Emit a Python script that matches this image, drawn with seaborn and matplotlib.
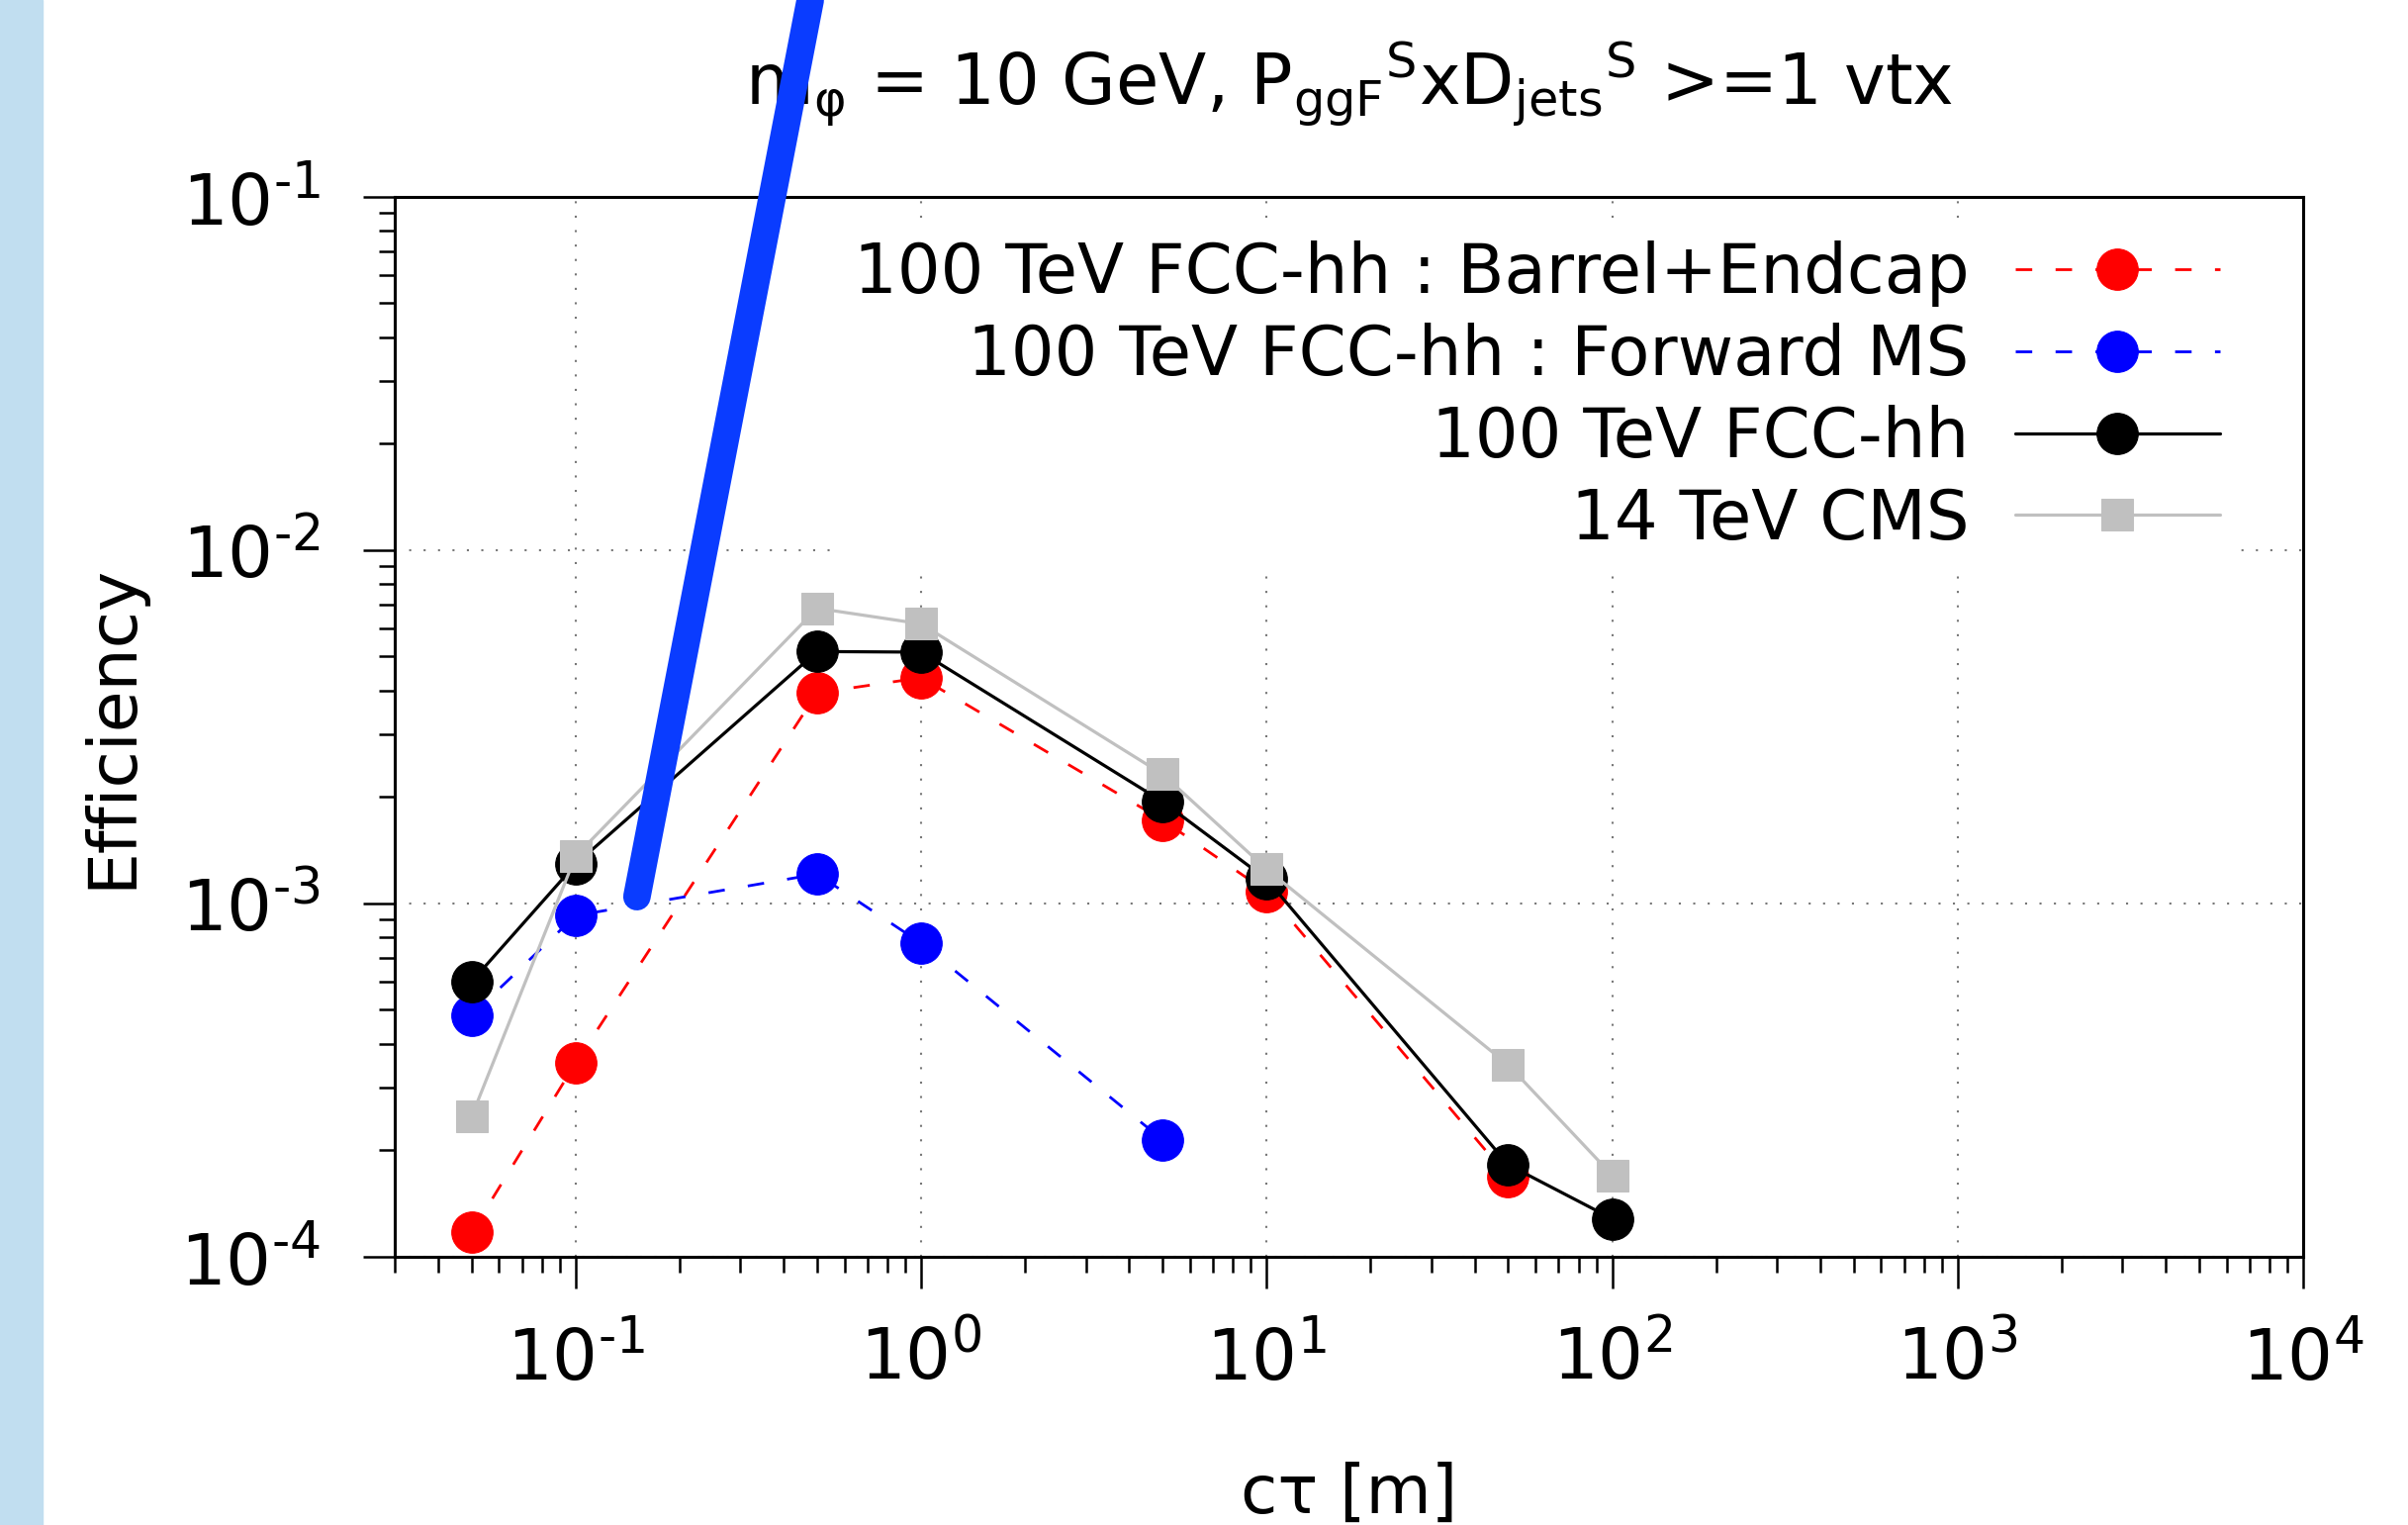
import numpy as np
import pandas as pd
import matplotlib
matplotlib.use("Agg")
import matplotlib.pyplot as plt
from matplotlib.lines import Line2D
from matplotlib.patches import Rectangle
from matplotlib.ticker import LogLocator, NullFormatter
import seaborn as sns

# ---- data ----
ctau = [0.05, 0.1, 0.5, 1, 5, 10, 50, 100]
eff_barrel = [1.17e-4, 3.53e-4, 3.94e-3, 4.35e-3, 1.72e-3, 1.08e-3, 1.68e-4]
ctau_fwd = [0.05, 0.1, 0.5, 1, 5]
eff_forward = [4.82e-4, 9.23e-4, 1.21e-3, 7.71e-4, 2.14e-4]
eff_fcc = [6.0e-4, 1.29e-3, 5.16e-3, 5.14e-3, 1.94e-3, 1.17e-3, 1.82e-4, 1.28e-4]
eff_cms = [2.49e-4, 1.36e-3, 6.84e-3, 6.18e-3, 2.32e-3, 1.25e-3, 3.49e-4, 1.70e-4]

labels = ["100 TeV FCC-hh : Barrel+Endcap", "100 TeV FCC-hh : Forward MS",
          "100 TeV FCC-hh", "14 TeV CMS"]

xticks = [1e-1, 1e0, 1e1, 1e2, 1e3, 1e4]
xticklabels = [r"$10^{\text{-1}}$", r"$10^{0}$", r"$10^{1}$", r"$10^{2}$",
               r"$10^{3}$", r"$10^{4}$"]
yticks = [1e-4, 1e-3, 1e-2, 1e-1]
yticklabels = [r"$10^{\text{-4}}$", r"$10^{\text{-3}}$", r"$10^{\text{-2}}$",
               r"$10^{\text{-1}}$"]

sns.set_theme(style="white")
plt.rcParams['font.family'] = ['DejaVu Sans']
plt.rcParams['mathtext.fontset'] = 'dejavusans'
plt.rcParams['text.color'] = 'black'
plt.rcParams['axes.labelcolor'] = 'black'
plt.rcParams['xtick.color'] = 'black'
plt.rcParams['ytick.color'] = 'black'

fig = plt.figure(figsize=(24.34, 15.41), dpi=100)
ax = fig.add_axes([0.164, 0.176, 0.7925, 0.695])

# light blue strip on the left edge
fig.patches.append(Rectangle((0, 0), 0.0177, 1, transform=fig.transFigure,
                             color='#c1def0', zorder=0))

df_b = pd.DataFrame({'x': ctau[:len(eff_barrel)], 'y': eff_barrel})
df_f = pd.DataFrame({'x': ctau_fwd, 'y': eff_forward})
df_c = pd.DataFrame({'x': ctau, 'y': eff_fcc})
df_m = pd.DataFrame({'x': ctau, 'y': eff_cms})

dash = (0, (6, 8.5))
sns.lineplot(data=df_b, x='x', y='y', ax=ax, color='red', lw=2.0,
             linestyle=dash, marker='o', markersize=30,
             mec='red', label=labels[0])
sns.lineplot(data=df_f, x='x', y='y', ax=ax, color='blue', lw=2.0,
             linestyle=dash, marker='o', markersize=30,
             mec='blue', label=labels[1])
sns.lineplot(data=df_c, x='x', y='y', ax=ax, color='black', lw=2.3,
             marker='o', markersize=30, mec='black', label=labels[2])
sns.lineplot(data=df_m, x='x', y='y', ax=ax, color='#c0c0c0', lw=2.3,
             marker='s', markersize=23, mec='#c0c0c0', label=labels[3])

ax.set_xscale('log')
ax.set_yscale('log')
ax.set_xlim(0.03, 1e4)
ax.set_ylim(1e-4, 1e-1)

ax.set_xticks(xticks)
ax.set_xticklabels(xticklabels)
ax.set_yticks(yticks)
ax.set_yticklabels(yticklabels)
ax.xaxis.set_minor_locator(LogLocator(base=10, subs=np.arange(2, 10)))
ax.yaxis.set_minor_locator(LogLocator(base=10, subs=np.arange(2, 10)))
ax.xaxis.set_minor_formatter(NullFormatter())
ax.yaxis.set_minor_formatter(NullFormatter())

ax.tick_params(which='major', direction='out', length=23, width=1.8,
               labelsize=52, color='black', labelcolor='black')
ax.tick_params(which='minor', direction='out', length=11.5, width=1.8,
               color='black')
ax.tick_params(axis='x', which='major', pad=26)
ax.tick_params(axis='y', which='major', pad=31)
ax.tick_params(left=True, bottom=True, which='both')

for s in ax.spines.values():
    s.set_linewidth(2.2)
    s.set_color('black')

ax.grid(True, which='major', color='#777777', lw=1.5, ls=(0, (1, 6)))
ax.set_axisbelow(True)

ax.set_xlabel("cτ [m]", fontsize=49, labelpad=48)
ax.set_ylabel("Efficiency", fontsize=49, labelpad=26)
ax.set_title(r"m$_{\mathregular{φ}}$ = 10 GeV, P$_{\mathregular{ggF}}$$^{\mathregular{S}}$"
             r"xD$_{\mathregular{jets}}$$^{\mathregular{S}}$ >=1 vtx",
             fontsize=50.8, pad=67)

leg = ax.legend(loc='upper right', bbox_to_anchor=(0.967, 0.978),
                fontsize=49.6, markerfirst=False, frameon=True, fancybox=False,
                borderpad=0.3, borderaxespad=0, labelspacing=0.23,
                handlelength=3.0, handletextpad=0.68)
leg.get_frame().set_edgecolor('none')
leg.get_frame().set_facecolor('white')
leg.get_frame().set_alpha(1)

# hand-drawn blue pen stroke over the picture
fig.add_artist(Line2D([0.2645, 0.3365], [0.412, 1.0], transform=fig.transFigure,
                      color='#0a3cff', lw=20, solid_capstyle='round'))

fig.savefig("out.png", dpi=100)
